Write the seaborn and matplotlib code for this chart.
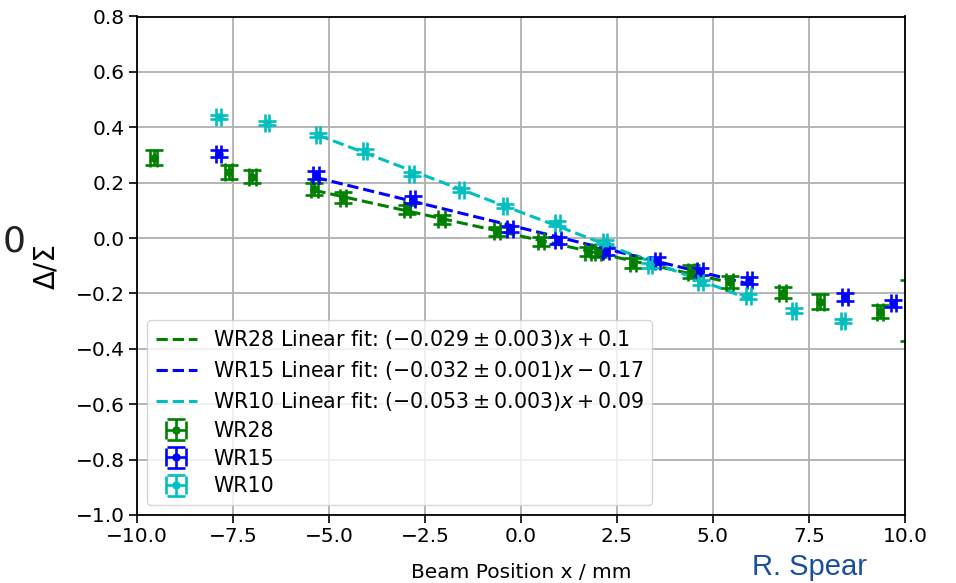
import numpy as np
import pandas as pd
import matplotlib
matplotlib.use("Agg")
import matplotlib.pyplot as plt
import seaborn as sns

# ---------------- data ----------------
wr28_x = [-9.57, -7.61, -7.00, -5.38, -4.64, -2.96, -2.07, -0.62, 0.51, 1.75, 2.00, 2.92, 4.42, 5.43, 6.81, 7.79, 9.35, 10.10]
wr28_y = [0.290, 0.238, 0.222, 0.176, 0.145, 0.104, 0.068, 0.025, -0.011, -0.050, -0.052, -0.089, -0.122, -0.160, -0.197, -0.230, -0.266, -0.260]
wr28_xerr = [0.10, 0.09, 0.09, 0.09, 0.08, 0.08, 0.08, 0.08, 0.08, 0.08, 0.08, 0.08, 0.08, 0.08, 0.08, 0.09, 0.09, 0.10]
wr28_yerr = [0.027, 0.025, 0.023, 0.022, 0.020, 0.017, 0.017, 0.016, 0.016, 0.016, 0.016, 0.018, 0.024, 0.022, 0.019, 0.027, 0.024, 0.110]

wr15_x = [-7.87, -5.34, -2.82, -0.29, 0.96, 2.21, 3.55, 4.66, 5.95, 8.44, 9.70]
wr15_y = [0.305, 0.228, 0.140, 0.033, -0.008, -0.048, -0.082, -0.120, -0.153, -0.213, -0.236]
wr15_xerr = [0.07] * 11
wr15_yerr = [0.013, 0.013, 0.012, 0.012, 0.012, 0.012, 0.012, 0.012, 0.013, 0.013, 0.013]

wr10_x = [-7.87, -6.61, -5.29, -4.06, -2.85, -1.55, -0.42, 0.95, 2.19, 3.36, 4.68, 5.92, 7.11, 8.39]
wr10_y = [0.438, 0.415, 0.373, 0.313, 0.232, 0.174, 0.116, 0.053, -0.014, -0.099, -0.160, -0.211, -0.262, -0.300]
wr10_xerr = [0.06] * 14
wr10_yerr = [0.008] * 14

series_names = ["WR28", "WR15", "WR10"]
fit_labels = [
    r"WR28 Linear fit: $(-0.029 \pm 0.003)x + 0.1$",
    r"WR15 Linear fit: $(-0.032 \pm 0.001)x - 0.17$",
    r"WR10 Linear fit: $(-0.053 \pm 0.003)x + 0.09$",
]
fit_range = [-5.45, 6.0]

x_ticks = [-10.0, -7.5, -5.0, -2.5, 0.0, 2.5, 5.0, 7.5, 10.0]
y_ticks = [0.8, 0.6, 0.4, 0.2, 0.0, -0.2, -0.4, -0.6, -0.8, -1.0]

# slide fragments visible around the chart in the screenshot
left_fragment = "0"
author_text = "R. Spear"

# ---------------- style ----------------
sns.set_style("ticks")
plt.rcParams["font.family"] = ["DejaVu Sans"]
plt.rcParams["mathtext.fontset"] = "dejavusans"
plt.rcParams["text.color"] = "black"
plt.rcParams["axes.labelcolor"] = "black"
plt.rcParams["xtick.color"] = "black"
plt.rcParams["ytick.color"] = "black"
FS = 14.5

fig = plt.figure(figsize=(9.56, 5.83), dpi=100)
ax = fig.add_axes([137 / 956, 68 / 583, 768 / 956, 498.5 / 583])

colors = ["g", "b", "c"]
data = [
    (wr28_x, wr28_y, wr28_xerr, wr28_yerr),
    (wr15_x, wr15_y, wr15_xerr, wr15_yerr),
    (wr10_x, wr10_y, wr10_xerr, wr10_yerr),
]

# fits
for (xs, ys, _, _), col, lab in zip(data, colors, fit_labels):
    xs = np.asarray(xs); ys = np.asarray(ys)
    m = (xs >= fit_range[0]) & (xs <= fit_range[1])
    p = np.polyfit(xs[m], ys[m], 1)
    xl = np.array([xs[m].min(), xs[m].max()])
    df = pd.DataFrame({"x": xl, "y": np.polyval(p, xl)})
    sns.lineplot(data=df, x="x", y="y", ax=ax, color=col, linestyle="--",
                 linewidth=2.2, label=lab, legend=False)

# data with error bars
for (xs, ys, xe, ye), col, name in zip(data, colors, series_names):
    ax.errorbar(xs, ys, xerr=xe, yerr=ye, fmt="o", color=col, markersize=5,
                elinewidth=1.9, capsize=6.8, capthick=1.9, label=name)

ax.set_xlim(-10, 10)
ax.set_ylim(-1.0, 0.8)
ax.set_xticks(x_ticks)
ax.set_yticks(y_ticks)
ax.set_xticklabels([f"{v:.1f}".replace("-", "\u2212") for v in x_ticks])
ax.set_yticklabels([f"{v:.1f}".replace("-", "\u2212") for v in y_ticks])
ax.grid(True, color="#b0b0b0", linewidth=1.3)
ax.set_axisbelow(True)
for s in ax.spines.values():
    s.set_linewidth(1.3)
    s.set_color("black")
    s.set_visible(True)
ax.tick_params(labelsize=FS, length=5.5, width=1.2, direction="out", colors="black")
ax.set_xlabel("Beam Position x / mm", fontsize=FS, labelpad=12)
ax.set_ylabel("\u0394/\u03a3", fontsize=20, labelpad=11)

leg = ax.legend(loc="lower left", fontsize=14.8, framealpha=0.8, edgecolor="#cccccc",
                fancybox=True, handlelength=2.0, labelspacing=0.38)
for t in leg.get_texts():
    t.set_color("black")

fig.text(3 / 956, 1 - 242 / 583, left_fragment, fontsize=26, color="#222222",
         ha="left", va="center")
fig.text(752 / 956, 2 / 583, author_text, fontsize=21, color="#1a4fa0",
         family="Liberation Sans", ha="left", va="bottom")

fig.savefig("out.png", dpi=100)
